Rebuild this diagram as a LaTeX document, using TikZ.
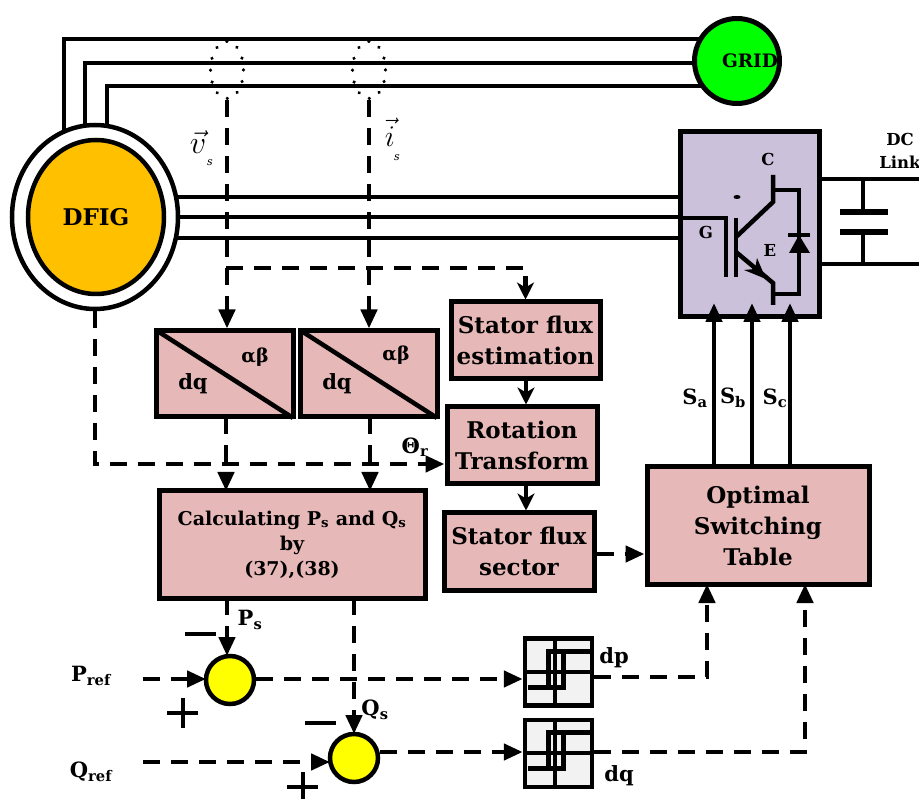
\documentclass[tikz,border=0pt]{standalone}
\usepackage{fontspec}
\setmainfont{DejaVu Serif}
\usetikzlibrary{arrows.meta,shapes.geometric}
\definecolor{boxpink}{HTML}{E6B8B7}
\definecolor{igbtfill}{HTML}{CCC1DA}
\definecolor{gridgreen}{HTML}{00FF00}
\definecolor{dfigorange}{HTML}{FFC000}
\definecolor{sumyellow}{HTML}{FFFF00}
\definecolor{hystfill}{HTML}{F2F2F2}
\begin{document}
\begin{tikzpicture}[
    x=1pt,y=-1pt,
    wire/.style={line width=4.5pt},
    thinwire/.style={line width=3.5pt},
    dashline/.style={line width=4.5pt,dash pattern=on 17pt off 11pt},
    tip/.style={-{Triangle[length=19pt,width=16pt]}},
    shorttip/.style={-{Stealth[length=17pt,width=17pt,inset=5pt]}},
    block/.style={draw,fill=boxpink,line width=5pt,font=\fontsize{23}{31}\selectfont\bfseries,align=center,inner sep=0pt},
    lbl/.style={font=\fontsize{21}{25}\selectfont\bfseries,align=center,inner sep=0pt},
    smalllbl/.style={font=\fontsize{16.5}{23}\selectfont\bfseries,align=center,inner sep=0pt},
    sumnode/.style={circle,draw,fill=sumyellow,line width=4.5pt,minimum size=48pt,inner sep=0pt},
    hyst/.style={draw,fill=hystfill,line width=4.5pt,minimum width=67pt,minimum height=67pt,inner sep=0pt},
    probe/.style={ellipse,draw,line width=3.5pt,line cap=round,dash pattern=on 0.1pt off 11.9pt,minimum width=33pt,minimum height=57pt,inner sep=0pt}
]
\useasboundingbox (0,0) rectangle (919,799);

% stator and rotor lines
\coordinate (statA) at (64,132);
\coordinate (statB) at (85,128);
\coordinate (statC) at (107,128);
\draw[wire] (statA) |- (705,39);
\draw[wire] (statB) |- (700,63);
\draw[wire] (statC) |- (705,86);
\coordinate (rotA) at (170,197);
\coordinate (rotB) at (170,217);
\coordinate (rotC) at (170,238);
\draw[wire] (rotA) -- (690,197);
\draw[wire] (rotB) -- (690,217);
\draw[wire] (rotC) -- (690,238);

% machine and grid
\node[ellipse,draw,fill=white,line width=4.5pt,minimum width=166pt,minimum height=184pt,inner sep=0pt] (dfigouter) at (95,217) {};
\node[ellipse,draw,fill=dfigorange,line width=4.5pt,minimum width=136pt,minimum height=154pt,inner sep=0pt,font=\fontsize{23}{27}\selectfont\bfseries] (dfig) at (96,217) {DFIG};
\node[circle,draw,fill=gridgreen,line width=5pt,minimum size=85pt,inner sep=0pt] (grid) at (737,61) {};
\node[font=\fontsize{18.5}{22}\selectfont\bfseries,inner sep=0pt] (gridlbl) at (750,61) {GRID};

% converter
\node[draw,fill=igbtfill,line width=5pt,minimum width=139pt,minimum height=185pt,inner sep=0pt] (igbt) at (750,224) {};
\draw[wire] (681,218) -- (726,218) -- (726,277);
\draw[wire] (736,218) -- (736,277);
\draw[wire] (736,237) -- (773,202) -- (773,175);
\draw[wire] (773,190) -- (799,190) -- (799,294) -- (773,294);
\draw[wire] (736,252) -- (773,283) -- (773,305);
\fill (744,270) -- (766,279) -- (757,258) -- (755,269) -- cycle;
\fill (799,235) -- (810,253) -- (789,253) -- cycle;
\draw[wire] (788,235) -- (810,235);
\fill (737,197) ellipse (3.5pt and 2pt);
\node[smalllbl] (labC) at (768,159) {C};
\node[smalllbl] (labG) at (706,232) {G};
\node[smalllbl] (labE) at (770,250) {E};

% dc link
\coordinate (dcA) at (919,179);
\coordinate (dcB) at (919,264);
\coordinate (capA) at (863,212);
\coordinate (capB) at (863,232);
\draw[wire] (igbt.east |- dcA) -- (dcA);
\draw[wire] (igbt.east |- dcB) -- (dcB);
\draw[thinwire] (capA |- dcA) -- (capA);
\draw[thinwire] (capB) -- (capB |- dcB);
\draw[line width=6.5pt] (840,212) -- (888,212);
\draw[line width=6.5pt] (840,232) -- (888,232);
\node[smalllbl] (dclink) at (900,151) {DC\\Link};

% measurement
\node[probe] (probev) at (227,70) {};
\node[probe] (probei) at (369,70) {};
\node[font=\fontsize{20}{24}\selectfont,scale=1.55,inner sep=0pt] (vecv) at (198,142) {$\vec{v}$};
\node[font=\fontsize{11}{12}\selectfont\itshape,inner sep=0pt] (subv) at (210,163) {s};
\node[font=\fontsize{20}{24}\selectfont,scale=1.45,inner sep=0pt] (veci) at (390,132) {$\vec{i}$};
\node[font=\fontsize{11}{12}\selectfont\itshape,inner sep=0pt] (subi) at (397,158) {s};

% blocks
\node[block,minimum width=137pt,minimum height=86pt] (dqa) at (224.5,374) {};
\node[block,minimum width=137pt,minimum height=86pt] (dqb) at (368.5,374) {};
\draw[wire,shorten <=3pt,shorten >=3pt] (dqa.north west) -- (dqa.south east);
\draw[wire,shorten <=3pt,shorten >=3pt] (dqb.north west) -- (dqb.south east);
\node[lbl,font=\fontsize{19}{23}\selectfont\bfseries] (abA) at (255,357) {αβ};
\node[lbl] (dqA) at (193,384) {dq};
\node[lbl,font=\fontsize{19}{23}\selectfont\bfseries] (abB) at (396,355) {αβ};
\node[lbl] (dqB) at (337,384) {dq};
\node[block,minimum width=149pt,minimum height=77pt] (fluxest) at (525.5,340.5) {Stator flux\\estimation};
\node[block,minimum width=150pt,minimum height=77pt] (rottrans) at (522,445.5) {Rotation\\Transform};
\node[block,minimum width=150pt,minimum height=77pt] (fluxsec) at (519,551.5) {Stator flux\\sector};
\node[block,minimum width=266pt,minimum height=107pt,font=\fontsize{19}{25}\selectfont\bfseries] (calc) at (292,544.5) {Calculating P\textsubscript{s} and Q\textsubscript{s}\\by\\(37),(38)};
\node[block,minimum width=222pt,minimum height=117pt] (ost) at (758,525.5) {Optimal\\Switching\\Table};

% dashed signals
\draw[dashline,tip] (probev.south) -- (probev.south |- dqa.north);
\draw[dashline,tip] (probei.south) -- (probei.south |- dqb.north);
\coordinate (flux) at (226,268);
\draw[dashline,shorttip] (flux) -| (fluxest.north);
\draw[dashline,tip] (dfigouter.south) |- (95,464) -- (rottrans.west |- 0,464);
\node[lbl] (theta) at (415,447) {Θ\textsubscript{r}};
\draw[dashline,tip] (226,417) -- (226,491);
\draw[dashline,tip] (370,417) -- (370,491);
\draw[wire,shorttip] (fluxest.south -| 526,0) -- (rottrans.north -| 526,0);
\draw[wire,shorttip] (rottrans.south -| 526,0) -- (fluxsec.north -| 526,0);
\draw[dashline,tip] (fluxsec.east |- 0,554) -- (ost.west |- 0,554);

% switching signals
\draw[wire,tip] (714,467) -- (714,303);
\draw[wire,tip] (752,467) -- (752,303);
\draw[wire,tip] (790,467) -- (790,303);
\node[lbl] (labSa) at (695,398) {S\textsubscript{a}};
\node[lbl] (labSb) at (733,398) {S\textsubscript{b}};
\node[lbl] (labSc) at (775,398) {S\textsubscript{c}};

% comparators
\node[sumnode] (sump) at (230,680) {};
\node[sumnode] (sumq) at (354,758) {};
\node[hyst] (hystp) at (558.5,672) {};
\node[hyst] (hystq) at (558.5,753.5) {};
\foreach \hy/\hname in {672/hystp,753/hystq} {
  \draw[thinwire] (525,\hy) -- (591,\hy);
  \draw[thinwire] (555,\hy-35) -- (555,\hy+33);
  \draw[line width=5pt] (528,\hy+15) -- (563,\hy+15) -- (563,\hy-21) -- (590,\hy-21);
  \draw[line width=5pt] (548,\hy+15) -- (548,\hy-21) -- (563,\hy-21);
}
\coordinate (pref) at (143,679);
\coordinate (qref) at (143,762);
\draw[dashline,tip] (227,598) -- (227,656);
\draw[dashline,tip] (354,598) -- (354,734);
\draw[dashline,tip] (pref) -- (206,679);
\draw[dashline,tip] (qref) -- (330,762);
\draw[dashline,tip] (sump.east |- 0,679) -- (hystp.west |- 0,679);
\draw[dashline,tip] (sumq.east |- 0,752) -- (hystq.west |- 0,752);
\draw[dashline,tip] (hystp.east |- 0,677) -| (707,584);
\draw[dashline,tip] (hystq.east |- 0,752) -| (805,584);
\node[lbl] (labPref) at (91,676) {P\textsubscript{ref}};
\node[lbl] (labQref) at (91,772) {Q\textsubscript{ref}};
\node[lbl] (labPs) at (250,620) {P\textsubscript{s}};
\node[lbl] (labQs) at (375,710) {Q\textsubscript{s}};
\node[lbl] (labdp) at (614,658) {dp};
\node[lbl] (labdq) at (619,776) {dq};

% signs
\draw[wire] (185,634) -- (216,634);
\draw[wire] (305,723) -- (336,723);
\draw[wire] (167,713) -- (198,713);
\draw[wire] (183,698) -- (183,728);
\draw[wire] (287,787) -- (318,787);
\draw[wire] (303,772) -- (303,799);

\end{tikzpicture}
\end{document}
